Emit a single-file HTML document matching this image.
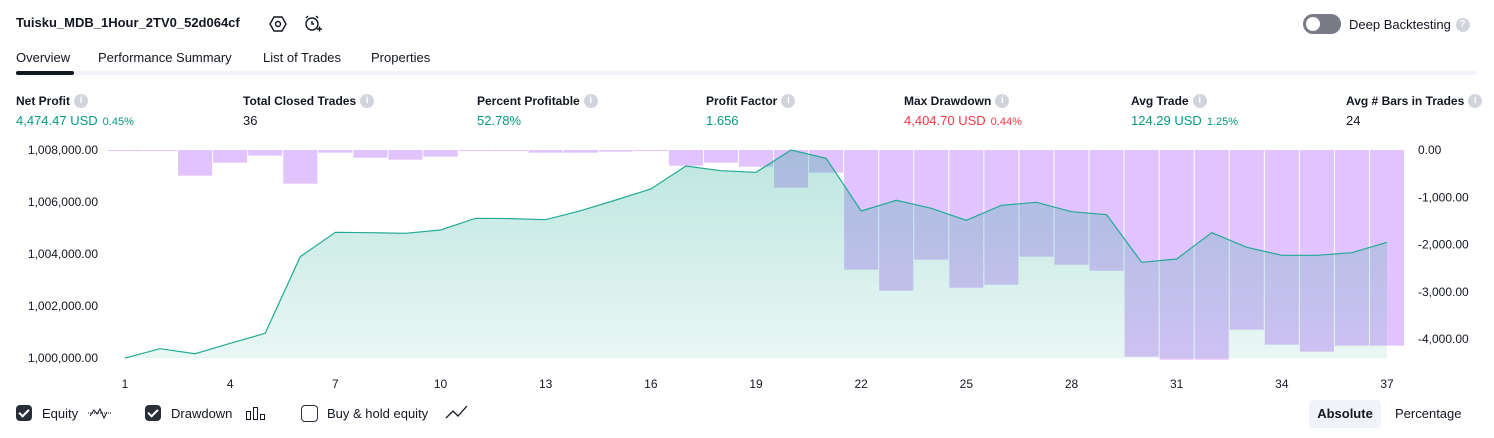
<!DOCTYPE html>
<html><head><meta charset="utf-8">
<style>
body{margin:0;width:1494px;height:438px;background:#fff;font-family:"Liberation Sans",sans-serif;color:#131722;position:relative;overflow:hidden}
.a{position:absolute;white-space:nowrap}
.lbl{font-size:12px;font-weight:bold;color:#131722}
.val{font-size:13px}
.g{color:#089981}.r{color:#f23645}
.pct{font-size:11px;margin-left:5px}
.info{display:inline-block;width:14px;height:14px;border-radius:50%;background:#d1d4dc;color:#fff;font-size:10px;text-align:center;line-height:14px;vertical-align:middle;position:relative;top:-1px;margin-left:4px;font-weight:bold}
.cb{position:absolute;width:16px;height:16px;border-radius:4px;top:405px}
.cb.on{background:#2a2e39}
.cb.on::after{content:"";position:absolute;left:5px;top:2px;width:4px;height:8px;border:solid #fff;border-width:0 2px 2px 0;transform:rotate(45deg)}
.cb.off{border:1px solid #2a2e39;box-sizing:border-box;width:17px;height:17px}
.tab{font-size:13px;top:50px}
</style></head><body>
<div class="a" style="left:16px;top:15px;font-size:13px;font-weight:bold">Tuisku_MDB_1Hour_2TV0_52d064cf</div>
<svg class="a" style="left:269px;top:15px" width="18" height="18"><polygon points="5,2 13,2 17,9 13,16 5,16 1,9" fill="none" stroke="#131722" stroke-width="1.4"/><circle cx="9" cy="9" r="2.5" fill="none" stroke="#131722" stroke-width="1.4"/></svg>
<svg class="a" style="left:303px;top:14px" width="20" height="20"><circle cx="9" cy="10" r="6" fill="none" stroke="#131722" stroke-width="1.4"/><path d="M9 7v3h2M3 4l2-2M15 4l-2-2M14 15h5M16.5 12.5v5" stroke="#131722" stroke-width="1.4" fill="none"/></svg>
<div class="a" style="left:1303px;top:14px;width:38px;height:20px;border-radius:10px;background:#787b86"><div style="position:absolute;left:3px;top:3px;width:14px;height:14px;border-radius:50%;background:#fff"></div></div>
<div class="a" style="left:1349px;top:17px;font-size:13px">Deep Backtesting <span class="info" style="margin-left:1px">?</span></div>
<div class="a tab" style="left:16px">Overview</div>
<div class="a tab" style="left:98px">Performance Summary</div>
<div class="a tab" style="left:263px">List of Trades</div>
<div class="a tab" style="left:371px">Properties</div>
<div class="a" style="left:16px;top:71px;width:1461px;height:4px;background:#f0f3fa;border-radius:2px"></div>
<div class="a" style="left:16px;top:71px;width:58px;height:4px;background:#131722;border-radius:2px"></div>

<div class="a lbl" style="left:16px;top:94px">Net Profit<span class="info">i</span></div>
<div class="a val g" style="left:16px;top:113px">4,474.47 USD<span class="pct">0.45%</span></div>
<div class="a lbl" style="left:243px;top:94px">Total Closed Trades<span class="info">i</span></div>
<div class="a val" style="left:243px;top:113px">36</div>
<div class="a lbl" style="left:477px;top:94px">Percent Profitable<span class="info">i</span></div>
<div class="a val g" style="left:477px;top:113px">52.78%</div>
<div class="a lbl" style="left:706px;top:94px">Profit Factor<span class="info">i</span></div>
<div class="a val g" style="left:706px;top:113px">1.656</div>
<div class="a lbl" style="left:904px;top:94px">Max Drawdown<span class="info">i</span></div>
<div class="a val r" style="left:904px;top:113px">4,404.70 USD<span class="pct">0.44%</span></div>
<div class="a lbl" style="left:1131px;top:94px">Avg Trade<span class="info">i</span></div>
<div class="a val g" style="left:1131px;top:113px">124.29 USD<span class="pct">1.25%</span></div>
<div class="a lbl" style="left:1346px;top:94px">Avg # Bars in Trades<span class="info">i</span></div>
<div class="a val" style="left:1346px;top:113px">24</div>

<svg class="a" id="chart" style="left:0;top:0" width="1494" height="400"></svg>

<div class="cb on" style="left:16px"></div>
<div class="a" style="left:42px;top:406px;font-size:13px">Equity</div>
<svg class="a" style="left:87px;top:404px" width="26" height="18"><path d="M1 9h24" stroke="#131722" stroke-dasharray="1,1"/><path d="M3 12l4-6 3 4 3-5 4 9 3-6" stroke="#131722" fill="none"/></svg>
<div class="cb on" style="left:145px"></div>
<div class="a" style="left:171px;top:406px;font-size:13px">Drawdown</div>
<svg class="a" style="left:245px;top:405px" width="22" height="16"><rect x="1.5" y="6.5" width="4" height="8" fill="none" stroke="#131722"/><rect x="8.5" y="2.5" width="4" height="12" fill="none" stroke="#131722"/><rect x="15.5" y="9.5" width="4" height="5" fill="none" stroke="#131722"/></svg>
<div class="cb off" style="left:301px"></div>
<div class="a" style="left:327px;top:406px;font-size:13px">Buy &amp; hold equity</div>
<svg class="a" style="left:445px;top:404px" width="24" height="16"><path d="M1 14l7-7 5 5 9-10" stroke="#131722" fill="none" stroke-width="1.3"/></svg>
<div class="a" style="left:1309px;top:400px;width:72px;height:28px;background:#f0f3fa;border-radius:4px;font-size:13px;font-weight:bold;text-align:center;line-height:28px">Absolute</div>
<div class="a" style="left:1395px;top:406px;font-size:13px">Percentage</div>

<script>
const trades=[1,2,3,4,5,6,7,8,9,10,11,12,13,14,15,16,17,18,19,20,21,22,23,24,25,26,27,28,29,30,31,32,33,34,35,36,37];
const equity=[1000000,1000357,1000165,1000565,1000950,1003896,1004834,1004820,1004795,1004923,1005372,1005360,1005320,1005666,1006077,1006500,1007385,1007205,1007141,1008000,1007680,1005654,1006065,1005757,1005296,1005873,1005988,1005627,1005512,1003680,1003808,1004820,1004257,1003950,1003950,1004050,1004450];
const drawdown=[-15,-15,-543,-268,-120,-713,-57,-163,-205,-141,-15,-15,-57,-57,-35,-15,-332,-268,-353,-797,-480,-2533,-2977,-2321,-2914,-2850,-2258,-2427,-2554,-4374,-4437,-4437,-3803,-4120,-4268,-4141,-4141];
const leftTicks=[1000000,1002000,1004000,1006000,1008000];
const rightTicks=[0,-1000,-2000,-3000,-4000];
const xTicks=[1,4,7,10,13,16,19,22,25,28,31,34,37];

const svg=document.getElementById('chart');
const NS='http://www.w3.org/2000/svg';
const step=(1387-125)/36;
const xs=i=>125+(i-1)*step;
const yL=v=>150+(1008000-v)/1000*26;
const yR=v=>150+(-v)/1000*47.25;
function mk(t,a){const e=document.createElementNS(NS,t);for(const k in a)e.setAttribute(k,a[k]);svg.appendChild(e);return e;}
const defs=mk('defs',{});
defs.innerHTML='<linearGradient id="ag" x1="0" y1="0" x2="0" y2="1"><stop offset="0" stop-color="#22ab94" stop-opacity="0.3"/><stop offset="1" stop-color="#22ab94" stop-opacity="0.1"/></linearGradient>';
drawdown.forEach((v,i)=>{
  const x=xs(trades[i])-step/2;
  const r=mk('rect',{x:x+0.5,y:150,width:step-1,height:Math.max(yR(v)-150,1),fill:'#e1c4fd'});
  
  
});
let d='';equity.forEach((v,i)=>{d+=(i?'L':'M')+xs(trades[i]).toFixed(1)+' '+yL(v).toFixed(1);});
const area=mk('path',{d:d+'L'+xs(trades[trades.length-1])+' 358L'+xs(trades[0])+' 358Z',fill:'url(#ag)'});


const line=mk('path',{d:d,fill:'none',stroke:'#22ab94','stroke-width':1.2});


leftTicks.forEach(v=>{
  const t=mk('text',{x:98,y:yL(v)+4,'text-anchor':'end','font-size':12,fill:'#131722'});
  t.textContent=v.toLocaleString('en-US',{minimumFractionDigits:2});
  
  
});
rightTicks.forEach(v=>{
  const t=mk('text',{x:1418,y:yR(v)+4,'font-size':12,fill:'#131722'});
  t.textContent=v.toLocaleString('en-US',{minimumFractionDigits:2});
  
  
});
xTicks.forEach(v=>{
  const t=mk('text',{x:xs(v),y:388,'text-anchor':'middle','font-size':12,fill:'#131722'});
  t.textContent=v;
  
  
});
</script>
</body></html>
